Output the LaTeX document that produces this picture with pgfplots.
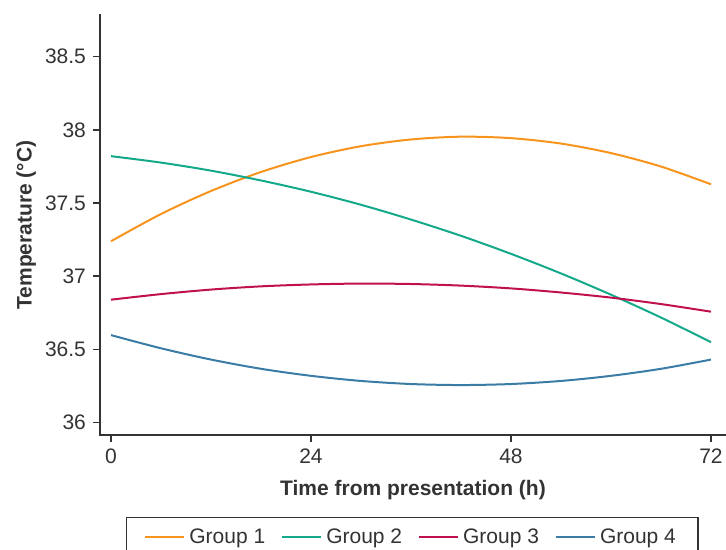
\documentclass[border=0pt]{standalone}
\usepackage{pgfplots}
\pgfplotsset{compat=1.18}
\usepackage{fontspec}
\setmainfont{Liberation Sans}

\definecolor{gOne}{HTML}{F7941D}
\definecolor{gTwo}{HTML}{14A98A}
\definecolor{gThree}{HTML}{C0104F}
\definecolor{gFour}{HTML}{3A7CA5}
\definecolor{axgray}{HTML}{333333}

\begin{document}
\begin{tikzpicture}
\begin{axis}[
    name=ax,
    scale only axis,
    clip=false,
    width=313pt, height=210pt,
    xmin=-1.32, xmax=73.8,
    ymin=35.916, ymax=38.784,
    axis lines*=left,
    axis line style={axgray, line width=0.8pt, -},
    xtick={0,24,48,72},
    ytick={36,36.5,37,37.5,38,38.5},
    yticklabels={36,36.5,37,37.5,38,38.5},
    tick align=outside,
    major tick length=3.5pt,
    tick style={axgray, line width=0.8pt},
    /pgf/number format/assume math mode=true,
    ticklabel style={font=\fontsize{10.5}{12}\selectfont, text=axgray},
    xlabel={Time from presentation (h)},
    ylabel={Temperature (°C)},
    label style={font=\fontsize{10.5}{12}\selectfont\bfseries, text=axgray},
    xlabel style={at={(axis description cs:0.5,-0.131)}, anchor=center},
    ylabel style={at={(axis description cs:-0.118,0.5)}, anchor=center},
    legend columns=4,
    legend style={at={(0,0)}, anchor=north west, xshift=12.9pt, yshift=-41pt,
        draw=axgray, line width=0.6pt,
        font=\fontsize{10.5}{12}\selectfont, text=axgray,
        inner xsep=9pt, inner ysep=3.5pt,
        /tikz/every even column/.append style={column sep=6pt}},
    legend image code/.code={%
        \draw[#1, line width=0.7pt] (0pt,0pt) -- (18.5pt,0pt);
        \path (0pt,0pt) -- (19.5pt,0pt);},
]
\draw[axgray, line width=0.8pt, line cap=rect] (rel axis cs:0,1) -- (rel axis cs:0,0) -- (rel axis cs:1,0);
\addplot[gOne, line width=1pt, smooth] coordinates {
    (0,37.239) (6,37.425) (12,37.582) (18,37.712) (24,37.814) (30,37.888)
    (36,37.934) (42,37.953) (48,37.943) (54,37.906) (60,37.841) (66,37.749) (72,37.628)
};
\addlegendentry{Group 1}
\addplot[gTwo, line width=1pt, smooth] coordinates {
    (0,37.820) (6,37.776) (12,37.721) (18,37.654) (24,37.577) (30,37.488)
    (36,37.387) (42,37.276) (48,37.153) (54,37.019) (60,36.874) (66,36.718) (72,36.550)
};
\addlegendentry{Group 2}
\addplot[gThree, line width=1pt, smooth] coordinates {
    (0,36.840) (6,36.878) (12,36.909) (18,36.931) (24,36.944) (30,36.950)
    (36,36.947) (42,36.936) (48,36.917) (54,36.889) (60,36.854) (66,36.810) (72,36.758)
};
\addlegendentry{Group 3}
\addplot[gFour, line width=1pt, smooth] coordinates {
    (0,36.598) (6,36.508) (12,36.431) (18,36.368) (24,36.320) (30,36.285)
    (36,36.264) (42,36.257) (48,36.264) (54,36.285) (60,36.320) (66,36.368) (72,36.431)
};
\addlegendentry{Group 4}
\end{axis}
\pgfresetboundingbox
\path ([shift={(-50pt,-57.5pt)}]ax.south west) rectangle ([shift={(0pt,7.5pt)}]ax.north east);
\end{tikzpicture}
\end{document}
